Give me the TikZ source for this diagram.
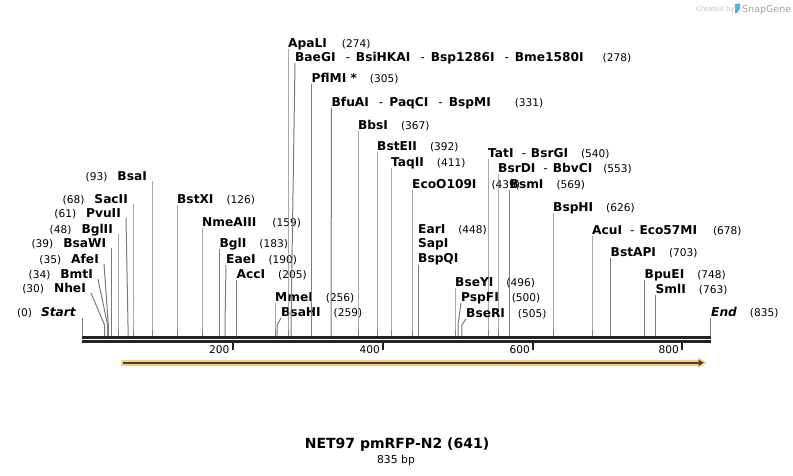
\documentclass[tikz,border=0pt]{standalone}
\usepackage{fontspec}
\setmainfont{DejaVu Sans}
\definecolor{cutgray}{HTML}{7A7A7A}
\definecolor{barcol}{HTML}{222222}
\definecolor{featorange}{HTML}{F9CC80}
\definecolor{featdark}{HTML}{4F4231}
\definecolor{wmlight}{HTML}{C4C4C4}
\definecolor{wmgray}{HTML}{A2A2A2}
\definecolor{wmblue}{HTML}{5AAEEA}
\newcommand\nmf{\fontsize{12.2}{13}\selectfont\bfseries}
\newcommand\nuf{\fontsize{10.6}{12}\selectfont\mdseries\upshape}
\newcommand\dsh{\hspace{8pt}{\mdseries-}\hspace{5pt}}
\newcommand\dshw{\hspace{10pt}{\mdseries-}\hspace{6pt}}
% right label: [#1 number gap] #2 bottom x, #3 top x, #4 centre y, #5 names, #6 number
\newcommand\rlab[6][13pt]{%
  \node[nm] at (#3,{#4+4}) {#5\hspace{#1}{\nuf(#6)}};
  \draw[cut] (#3,{#4+6}) -- (#2,325) -- (#2,336);
}
% left label
\newcommand\llab[5]{%
  \node[nm,anchor=base east] at ({#2-5},{#3+4}) {{\nuf(#5)}\hspace{10pt}#4};
  \draw[cut] (#2,{#3+5}) -- (#1,325) -- (#1,336);
}
\begin{document}
\begin{tikzpicture}[x=1pt,y=-1pt,
  nm/.style={font=\nmf,inner sep=0,anchor=base west},
  nu/.style={font=\nuf,inner sep=0},
  cut/.style={draw=cutgray,line width=1pt},
  tick/.style={draw=barcol,line width=2pt}]
\useasboundingbox (0,0) rectangle (793,475);
% watermark
\node[inner sep=0,anchor=base west,font=\fontsize{7}{8}\selectfont,text=wmlight] (wm1) at (696,11) {Created by};
\fill[wmblue] (735,3.5) -- (740,3.5) -- (740,9) -- (737,13) -- (735,13) -- cycle;
\node[inner sep=0,anchor=base west,font=\fontsize{9.5}{10}\selectfont,text=wmgray] (wm2) at (742,12) {SnapGene};
% sequence bar
\draw[draw=barcol,line width=3pt] (82,337.5) -- (711,337.5);
\draw[draw=barcol,line width=3pt] (82,341.5) -- (711,341.5);
% ticks
\foreach \tx/\tl in {232.5/200,383/400,533/600,682/800}{
  \draw[tick] (\tx,343) -- (\tx,350);
  \node[nu,anchor=base east] at ({\tx-3},353) {\tl};
}
% feature arrow
\fill[featorange] (120.7,359.7) rectangle (699,365.7);
\fill[featorange] (698,357.5) -- (706.7,362.7) -- (698,367.9) -- cycle;
\draw[draw=featdark,line width=2.3pt] (122.7,362.8) -- (700,362.8);
\fill[featdark] (698.5,359.6) -- (703.8,362.8) -- (698.5,366) -- cycle;
% left labels
\node[nm,anchor=base east] (start) at (76,316) {{\nuf(0)}\hspace{9pt}\itshape Start};
\draw[cut] (82,318) -- (82,336);
\llab{104.6}{91}{288}{NheI}{30}
\llab{107.6}{98}{274}{BmtI}{34}
\llab{108.3}{104}{259}{AfeI}{35}
\llab{111.3}{111.3}{243}{BsaWI}{39}
\llab{118}{118}{229}{BglII}{48}
\llab{128}{126}{213}{PvuII}{61}
\llab{133}{133}{199}{SacII}{68}
\llab{152}{152}{176}{BsaI}{93}
% right labels
\rlab{177}{177}{199}{BstXI}{126}
\rlab[16pt]{202}{202}{222}{NmeAIII}{159}
\rlab{219.5}{219.5}{243}{BglI}{183}
\rlab{225}{226}{259}{EaeI}{190}
\rlab{236.5}{236.5}{274}{AccI}{205}
\rlab{275}{275}{297}{MmeI}{256}
\rlab{277}{281}{312}{BsaHI}{259}
\rlab[15pt]{288}{288}{43}{ApaLI}{274}
\rlab[19pt]{291}{295}{57}{BaeGI\dshw BsiHKAI\dshw Bsp1286I\dshw Bme1580I}{278}
\rlab{311.5}{311.5}{78}{PflMI *}{305}
\rlab[24pt]{331}{331.5}{102}{BfuAI\dshw PaqCI\dshw BspMI}{331}
\rlab{358}{358}{125}{BbsI}{367}
\rlab{377}{377}{146}{BstEII}{392}
\rlab{391}{391}{162}{TaqII}{411}
\rlab[15pt]{412}{412}{184}{EcoO109I}{439}
\rlab{488}{488}{153}{TatI\dsh BsrGI}{540}
\rlab[11pt]{498}{498}{168}{BsrDI\dsh BbvCI}{553}
\rlab{509.5}{509.5}{184}{BsmI}{569}
\rlab{553}{553}{207}{BspHI}{626}
\node[nm] (earI) at (418,233) {EarI\hspace{13pt}{\nuf(448)}};
\node[nm] (sapI) at (418,247) {SapI};
\node[nm] (bspQI) at (418,262) {BspQI};
\draw[cut] (418.5,265) -- (418.5,336);
\rlab{455}{455}{282}{BseYI}{496}
\rlab{458}{461}{297}{PspFI}{500}
\rlab{461.8}{466}{313}{BseRI}{505}
\rlab[16pt]{592}{592}{230}{AcuI\dsh Eco57MI}{678}
\rlab{610.5}{610.5}{252}{BstAPI}{703}
\rlab{644.5}{644.5}{274}{BpuEI}{748}
\rlab{655.5}{655.5}{289}{SmlI}{763}
\node[nm] (endl) at (711,316) {{\itshape End}\hspace{13pt}{\nuf(835)}};
\draw[cut] (710,318) -- (710,336);
% title
\node[inner sep=0,anchor=base,font=\fontsize{14}{15}\selectfont\bfseries] (title) at (397,448) {NET97 pmRFP-N2 (641)};
\node[inner sep=0,anchor=base,font=\fontsize{10.8}{12}\selectfont] (len) at (396,463) {835 bp};
\end{tikzpicture}
\end{document}
